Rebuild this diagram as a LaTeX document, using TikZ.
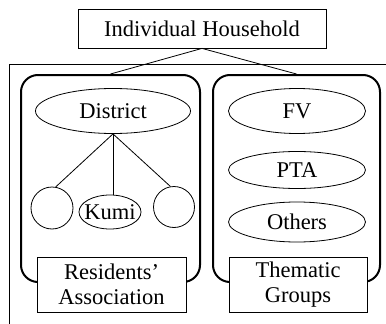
\documentclass[tikz,border=0pt]{standalone}
\usepackage{fontspec}
\setmainfont{Liberation Serif}
\usetikzlibrary{shapes.geometric}
\begin{document}
\begin{tikzpicture}[x=1pt,y=-1pt,
  every node/.style={font=\fontsize{22.5}{25.5}\selectfont, inner sep=0pt, align=center},
  thinline/.style={line width=0.8pt},
  labelbox/.style={draw, fill=white, rectangle, line width=0.8pt},
  oval/.style={draw, ellipse, line width=0.8pt},
  ring/.style={draw, circle, line width=0.8pt},
  groupbox/.style={draw, rectangle, rounded corners=17pt, line width=2pt},
]
\useasboundingbox (0,0) rectangle (386,324);

% household and the surrounding frame
\node[labelbox, minimum width=248pt, minimum height=39pt] (hh) at (202,28.5) {Individual Household};
\coordinate (ftr) at (386,64);
\coordinate (ftl) at (9,64);
\coordinate (fbl) at (9,324);
\draw[thinline] (ftr) -- (ftl) -- (fbl);

% the two groupings
\node[groupbox, minimum width=179pt, minimum height=207pt] (ra) at (110.5,178.5) {};
\node[groupbox, minimum width=167pt, minimum height=207pt] (tg) at (296.5,178.5) {};
\draw[thinline] (ra.north) -- (hh.south) -- (tg.north);

% residents' association hierarchy
\node[oval, minimum width=155pt, minimum height=45pt] (district) at (113,111) {District};
\node[ring, minimum size=42pt] (c1) at (52,208) {};
\node[oval, minimum width=62pt, minimum height=34pt, inner xsep=-4pt] (kumi) at (110,212) {Kumi};
\node[ring, minimum size=41pt] (c3) at (174,207) {};
\draw[thinline] (district.south) -- (c1.80);
\draw[thinline] (district.south) -- (district.south |- kumi.north);
\draw[thinline] (district.south) -- (c3.100);

% thematic groups
\node[oval, minimum width=137pt, minimum height=45pt] (fv) at (297,111) {FV};
\node[oval, minimum width=137pt, minimum height=37pt] (pta) at (297,170) {PTA};
\node[oval, minimum width=137pt, minimum height=40pt] (others) at (297,222) {Others};

% captions over the lower edges
\node[labelbox, minimum width=149pt, minimum height=55pt] (ralabel) at (111.5,284.5) {Residents'\\Association};
\node[labelbox, minimum width=138pt, minimum height=55pt] (tglabel) at (298,284.5) {Thematic\\Groups};
\end{tikzpicture}
\end{document}
